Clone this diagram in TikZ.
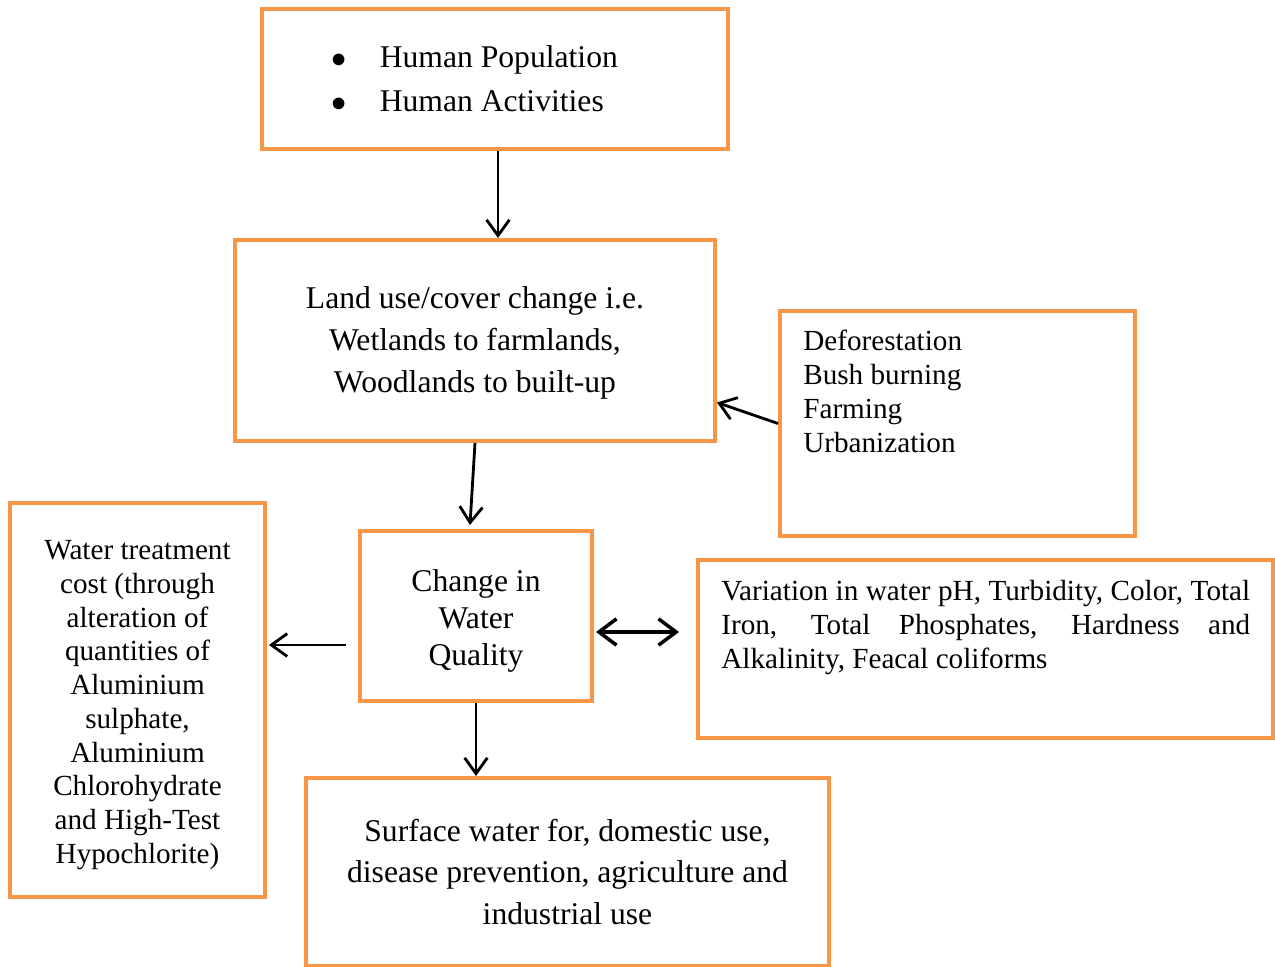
\documentclass[tikz,border=0pt]{standalone}
\usepackage{fontspec}
\setmainfont{Liberation Serif}
\usetikzlibrary{arrows.meta}
\definecolor{boxorange}{HTML}{F79646}
\begin{document}
\begin{tikzpicture}[x=0.02cm,y=-0.02cm,
    box/.style={draw=boxorange,line width=2.3pt,inner sep=0pt},
    big/.style={font=\fontsize{18}{23.8}\selectfont,align=center,inner sep=0pt},
    small/.style={font=\fontsize{16.6}{19.2}\selectfont,inner sep=0pt},
    arr/.style={-{Straight Barb[length=9pt,width=13pt]},line width=1.6pt}]
  \useasboundingbox (0,0) rectangle (1275,967);
  \node[box,minimum width=9.32cm,minimum height=2.8cm] (pop) at (495,79) {};
  \node[font=\fontsize{18}{25}\selectfont,anchor=west,align=left,inner sep=0pt] (popText) at (331,79)
    {\makebox[27.6pt][l]{$\bullet$}Human Population\\ \makebox[27.6pt][l]{$\bullet$}Human Activities};
  \node[box,minimum width=9.6cm,minimum height=4.02cm] (landuse) at (475,340.5) {};
  \node[big] (landuseText) at (475,343)
    {Land use/cover change i.e.\\ Wetlands to farmlands,\\ Woodlands to built-up};
  \node[box,minimum width=7.1cm,minimum height=4.5cm] (defor) at (957.5,423.5) {};
  \node[small,anchor=north west,align=left] (deforText) at (803,330)
    {Deforestation\\ Bush burning\\ Farming\\ Urbanization};
  \node[box,minimum width=5.1cm,minimum height=7.88cm] (cost) at (137.5,700) {};
  \node[small,align=center] (costText) at (137.5,705)
    {Water treatment\\ cost (through\\ alteration of\\ quantities of\\ Aluminium\\ sulphate,\\ Aluminium\\ Chlorohydrate\\ and High-Test\\ Hypochlorite)};
  \node[box,minimum width=4.64cm,minimum height=3.4cm] (change) at (476,616) {};
  \node[big,font=\fontsize{18}{21}\selectfont] (changeText) at (476,621)
    {Change in\\ Water\\ Quality};
  \node[box,minimum width=11.5cm,minimum height=3.56cm] (vari) at (985.5,649) {};
  \node[small,anchor=north west,text width=301pt,align=justify] (variText) at (721,580)
    {Variation in water pH, Turbidity, Color, Total\linebreak Iron, Total Phosphates, Hardness and\linebreak Alkalinity, Feacal coliforms};
  \node[box,minimum width=10.46cm,minimum height=3.76cm] (use) at (567.5,872) {};
  \node[big] (useText) at (567.5,872)
    {Surface water for, domestic use,\\ disease prevention, agriculture and\\ industrial use};
  \draw[arr] ([shift={(3,0)}]pop.south) -- ([shift={(23,0)}]landuse.north);
  \draw[arr] (defor.west) -- ([shift={(0,62)}]landuse.east);
  \draw[arr] (landuse.south) -- ([shift={(-6,-4)}]change.north);
  \draw[arr] ([shift={(-12,29)}]change.west) -- ([shift={(2,-55)}]cost.east);
  \draw[arr,line width=2pt,{Straight Barb[length=10pt,width=15pt]}-{Straight Barb[length=10pt,width=15pt]}]
    ([shift={(2,16)}]change.east) -- ([shift={(-17,-17)}]vari.west);
  \draw[arr] (change.south) -- (change.south |- use.north);
\end{tikzpicture}
\end{document}
